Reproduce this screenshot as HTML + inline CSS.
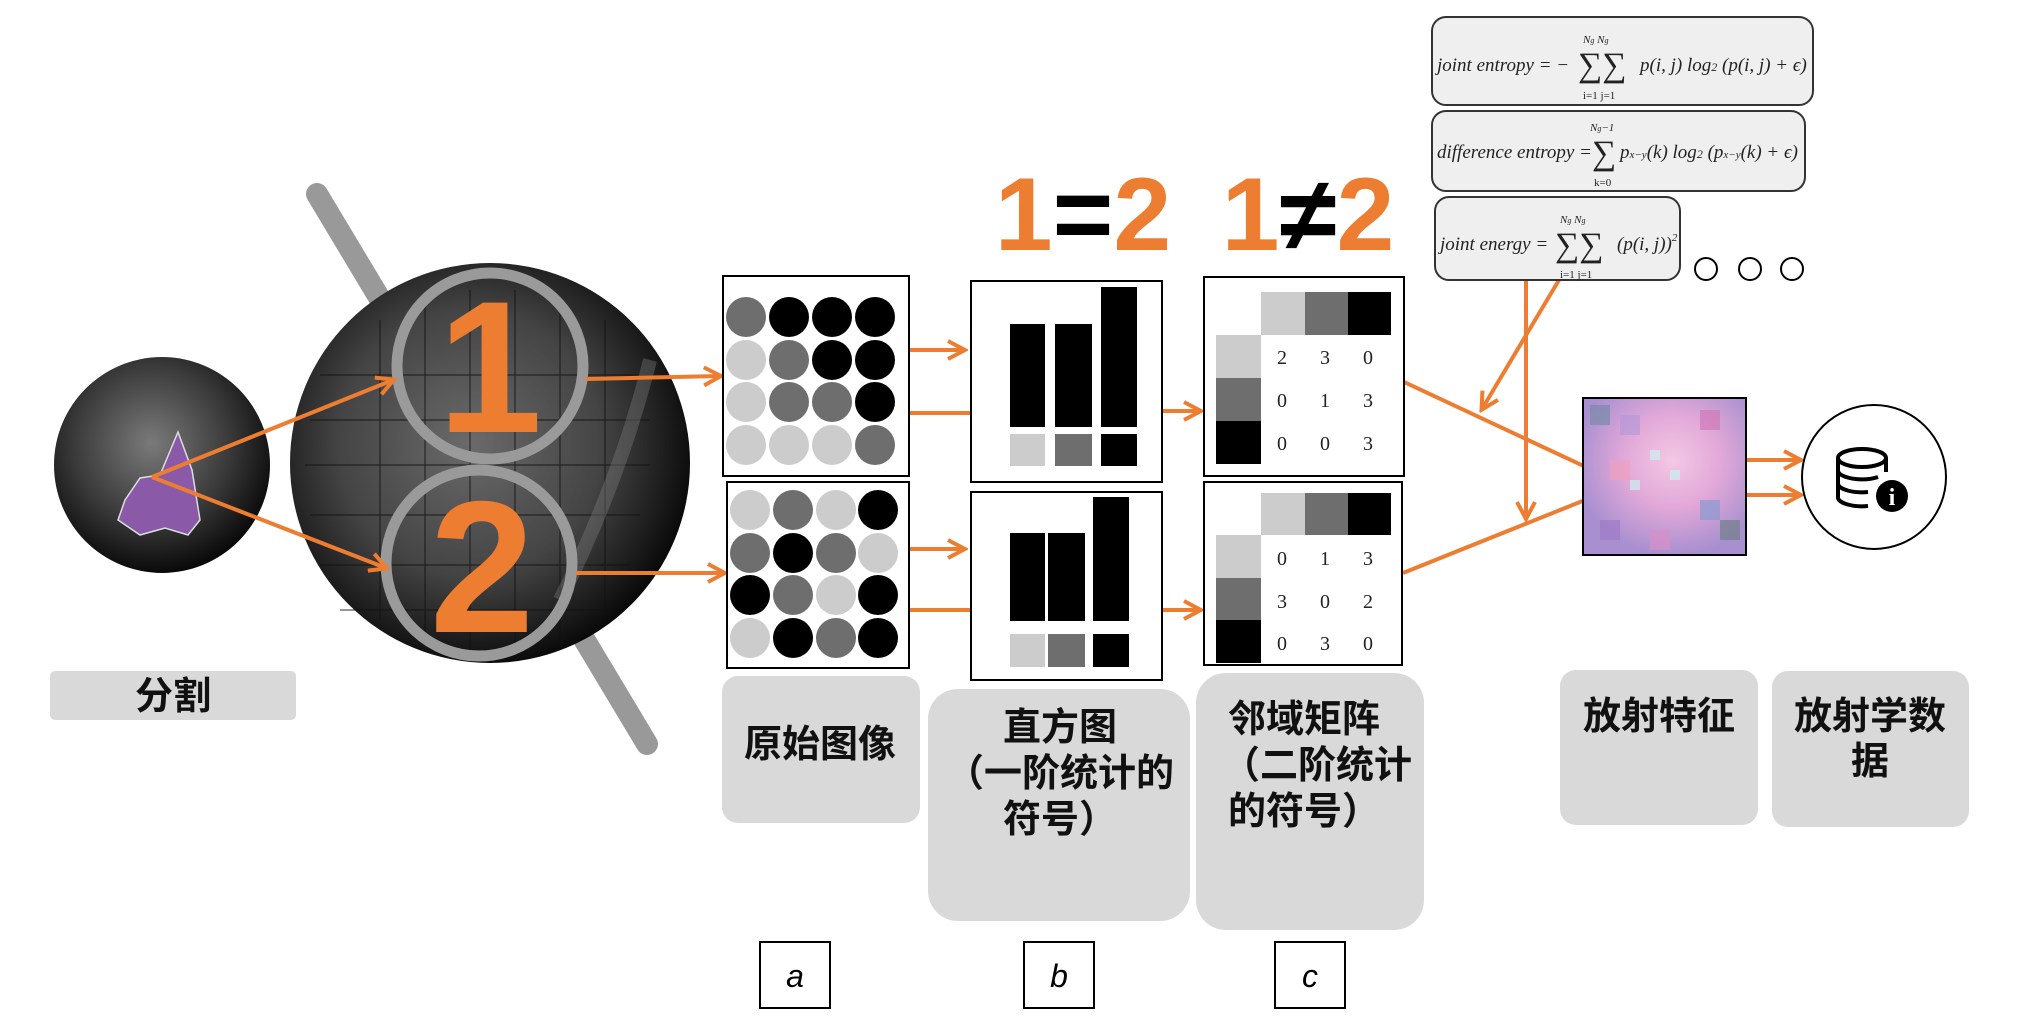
<!DOCTYPE html>
<html><head><meta charset="utf-8"><style>
html,body{margin:0;padding:0;background:#fff;}
svg{display:block;}
.cj{font-family:"Liberation Sans","Noto Sans CJK SC",sans-serif;font-weight:bold;fill:#111;}
.f{font-family:"Liberation Serif",serif;font-style:italic;fill:#222;}
.fs{font-family:"Liberation Serif",serif;fill:#222;}
.n{font-family:"Liberation Serif",serif;font-size:20px;fill:#222;text-anchor:middle;}
</style></head><body>
<svg width="2020" height="1028" viewBox="0 0 2020 1028" xmlns="http://www.w3.org/2000/svg">
<defs>
<radialGradient id="sm" cx="45%" cy="40%" r="60%"><stop offset="0" stop-color="#7a7a7a"/><stop offset="0.6" stop-color="#3a3a3a"/><stop offset="1" stop-color="#0a0a0a"/></radialGradient>
<radialGradient id="bg" cx="45%" cy="45%" r="60%"><stop offset="0" stop-color="#6a6a6a"/><stop offset="0.55" stop-color="#444"/><stop offset="0.85" stop-color="#181818"/><stop offset="1" stop-color="#000"/></radialGradient>
<radialGradient id="px" cx="55%" cy="40%" r="60%"><stop offset="0" stop-color="#f3c8e4"/><stop offset="0.5" stop-color="#e1a8d8"/><stop offset="1" stop-color="#a890d0"/></radialGradient>
<marker id="ah2" markerWidth="22" markerHeight="22" refX="18" refY="11" orient="auto" markerUnits="userSpaceOnUse"><path d="M2,2 L19,11 L2,20" fill="none" stroke="#ed7d31" stroke-width="4"/></marker>
</defs>

<circle cx="162" cy="465" r="108" fill="url(#sm)"/>
<path d="M178,432 L192,470 L200,520 L188,535 L165,528 L140,535 L118,520 L125,500 L140,478 L160,475 Z" fill="#8a5aa8" stroke="#ddd" stroke-width="1.5"/>

<line x1="317" y1="194" x2="647" y2="744" stroke="#999" stroke-width="22" stroke-linecap="round"/>
<circle cx="490" cy="463" r="200" fill="url(#bg)"/>
<g stroke="#111" stroke-width="1.2" opacity="0.7">
<line x1="320" y1="375" x2="640" y2="375"/><line x1="310" y1="420" x2="650" y2="420"/><line x1="305" y1="465" x2="650" y2="465"/><line x1="310" y1="515" x2="640" y2="515"/><line x1="320" y1="565" x2="630" y2="565"/><line x1="340" y1="610" x2="610" y2="610"/>
<line x1="380" y1="320" x2="380" y2="620"/><line x1="425" y1="300" x2="425" y2="640"/><line x1="470" y1="290" x2="470" y2="650"/><line x1="515" y1="290" x2="515" y2="650"/><line x1="560" y1="300" x2="560" y2="640"/><line x1="605" y1="320" x2="605" y2="620"/>
</g>
<path d="M650,360 C630,440 600,520 560,600" stroke="#888" stroke-width="14" fill="none" opacity="0.35"/>
<circle cx="490" cy="366" r="93" fill="none" stroke="#9a9a9a" stroke-width="11"/>
<circle cx="479" cy="563" r="93" fill="none" stroke="#9a9a9a" stroke-width="11"/>
<text x="490" y="432" font-family="Liberation Sans,sans-serif" font-weight="bold" font-size="188" fill="#ed7d31" text-anchor="middle">1</text>
<text x="482" y="632" font-family="Liberation Sans,sans-serif" font-weight="bold" font-size="188" fill="#ed7d31" text-anchor="middle">2</text>

<g stroke="#ed7d31" stroke-width="4" fill="none">
<line x1="152" y1="477" x2="393" y2="380" marker-end="url(#ah2)"/>
<line x1="152" y1="477" x2="386" y2="568" marker-end="url(#ah2)"/>
<line x1="586" y1="379" x2="720" y2="376" marker-end="url(#ah2)"/>
<line x1="576" y1="573" x2="724" y2="573" marker-end="url(#ah2)"/>
<line x1="910" y1="350" x2="964" y2="350" marker-end="url(#ah2)"/>
<line x1="910" y1="413" x2="971" y2="413"/>
<line x1="910" y1="549" x2="964" y2="549" marker-end="url(#ah2)"/>
<line x1="910" y1="610" x2="971" y2="610"/>
<line x1="1163" y1="411" x2="1200" y2="411" marker-end="url(#ah2)"/>
<line x1="1163" y1="610" x2="1200" y2="610" marker-end="url(#ah2)"/>
<line x1="1404" y1="382" x2="1605" y2="476" marker-end="url(#ah2)"/>
<line x1="1403" y1="573" x2="1605" y2="492" marker-end="url(#ah2)"/>
<line x1="1526" y1="280" x2="1526" y2="518" marker-end="url(#ah2)"/>
<line x1="1559" y1="280" x2="1482" y2="409" marker-end="url(#ah2)"/>
<line x1="1746" y1="460" x2="1800" y2="460" marker-end="url(#ah2)"/>
<line x1="1746" y1="495" x2="1800" y2="495" marker-end="url(#ah2)"/>
</g>

<rect x="723" y="276" width="186" height="200" fill="#fff" stroke="#000" stroke-width="2"/>
<rect x="727" y="482" width="182" height="186" fill="#fff" stroke="#000" stroke-width="2"/>
<g>
<circle cx="746" cy="317" r="20" fill="#6e6e6e"/><circle cx="789" cy="317" r="20" fill="#000"/><circle cx="832" cy="317" r="20" fill="#000"/><circle cx="875" cy="317" r="20" fill="#000"/>
<circle cx="746" cy="360" r="20" fill="#ccc"/><circle cx="789" cy="360" r="20" fill="#6e6e6e"/><circle cx="832" cy="360" r="20" fill="#000"/><circle cx="875" cy="360" r="20" fill="#000"/>
<circle cx="746" cy="402" r="20" fill="#ccc"/><circle cx="789" cy="402" r="20" fill="#6e6e6e"/><circle cx="832" cy="402" r="20" fill="#6e6e6e"/><circle cx="875" cy="402" r="20" fill="#000"/>
<circle cx="746" cy="445" r="20" fill="#ccc"/><circle cx="789" cy="445" r="20" fill="#ccc"/><circle cx="832" cy="445" r="20" fill="#ccc"/><circle cx="875" cy="445" r="20" fill="#6e6e6e"/>
<circle cx="750" cy="510" r="20" fill="#ccc"/><circle cx="793" cy="510" r="20" fill="#6e6e6e"/><circle cx="836" cy="510" r="20" fill="#ccc"/><circle cx="878" cy="510" r="20" fill="#000"/>
<circle cx="750" cy="553" r="20" fill="#6e6e6e"/><circle cx="793" cy="553" r="20" fill="#000"/><circle cx="836" cy="553" r="20" fill="#6e6e6e"/><circle cx="878" cy="553" r="20" fill="#ccc"/>
<circle cx="750" cy="595" r="20" fill="#000"/><circle cx="793" cy="595" r="20" fill="#6e6e6e"/><circle cx="836" cy="595" r="20" fill="#ccc"/><circle cx="878" cy="595" r="20" fill="#000"/>
<circle cx="750" cy="638" r="20" fill="#ccc"/><circle cx="793" cy="638" r="20" fill="#000"/><circle cx="836" cy="638" r="20" fill="#6e6e6e"/><circle cx="878" cy="638" r="20" fill="#000"/>
</g>

<rect x="971" y="281" width="191" height="201" fill="#fff" stroke="#000" stroke-width="2"/>
<rect x="971" y="492" width="191" height="188" fill="#fff" stroke="#000" stroke-width="2"/>
<rect x="1010" y="324" width="35" height="103" fill="#000"/><rect x="1055" y="324" width="37" height="103" fill="#000"/><rect x="1101" y="287" width="36" height="140" fill="#000"/>
<rect x="1010" y="434" width="35" height="32" fill="#ccc"/><rect x="1055" y="434" width="37" height="32" fill="#6e6e6e"/><rect x="1101" y="434" width="36" height="32" fill="#000"/>
<rect x="1010" y="533" width="35" height="88" fill="#000"/><rect x="1048" y="533" width="37" height="88" fill="#000"/><rect x="1093" y="497" width="36" height="124" fill="#000"/>
<rect x="1010" y="634" width="35" height="33" fill="#ccc"/><rect x="1048" y="634" width="37" height="33" fill="#6e6e6e"/><rect x="1093" y="634" width="36" height="33" fill="#000"/>

<rect x="1204" y="277" width="200" height="199" fill="#fff" stroke="#000" stroke-width="2"/>
<rect x="1204" y="482" width="198" height="183" fill="#fff" stroke="#000" stroke-width="2"/>
<rect x="1261" y="292" width="44" height="43" fill="#ccc"/><rect x="1305" y="292" width="43" height="43" fill="#6e6e6e"/><rect x="1348" y="292" width="43" height="43" fill="#000"/>
<rect x="1216" y="335" width="45" height="43" fill="#ccc"/><rect x="1216" y="378" width="45" height="43" fill="#6e6e6e"/><rect x="1216" y="421" width="45" height="43" fill="#000"/>
<text class="n" x="1282" y="364">2</text><text class="n" x="1325" y="364">3</text><text class="n" x="1368" y="364">0</text>
<text class="n" x="1282" y="407">0</text><text class="n" x="1325" y="407">1</text><text class="n" x="1368" y="407">3</text>
<text class="n" x="1282" y="450">0</text><text class="n" x="1325" y="450">0</text><text class="n" x="1368" y="450">3</text>
<rect x="1261" y="493" width="44" height="42" fill="#ccc"/><rect x="1305" y="493" width="43" height="42" fill="#6e6e6e"/><rect x="1348" y="493" width="43" height="42" fill="#000"/>
<rect x="1216" y="535" width="45" height="43" fill="#ccc"/><rect x="1216" y="578" width="45" height="42" fill="#6e6e6e"/><rect x="1216" y="620" width="45" height="43" fill="#000"/>
<text class="n" x="1282" y="565">0</text><text class="n" x="1325" y="565">1</text><text class="n" x="1368" y="565">3</text>
<text class="n" x="1282" y="608">3</text><text class="n" x="1325" y="608">0</text><text class="n" x="1368" y="608">2</text>
<text class="n" x="1282" y="650">0</text><text class="n" x="1325" y="650">3</text><text class="n" x="1368" y="650">0</text>

<text x="1083" y="250" font-family="Liberation Sans,sans-serif" font-weight="bold" font-size="104" fill="#ed7d31" text-anchor="middle">1<tspan fill="#000">=</tspan>2</text>
<text x="1308" y="250" font-family="Liberation Sans,sans-serif" font-weight="bold" font-size="104" fill="#ed7d31" text-anchor="middle">1<tspan fill="#000">≠</tspan>2</text>

<rect x="1432" y="17" width="381" height="88" rx="14" fill="#efefef" stroke="#333" stroke-width="2"/>
<rect x="1432" y="111" width="373" height="80" rx="14" fill="#efefef" stroke="#333" stroke-width="2"/>
<rect x="1435" y="197" width="245" height="83" rx="14" fill="#efefef" stroke="#333" stroke-width="2"/>
<text class="f" x="1437" y="71" font-size="19">joint entropy = −</text>
<text class="fs" x="1578" y="76" font-size="34">∑∑</text>
<text class="f" x="1583" y="43" font-size="11">N<tspan font-size="8">g</tspan>   N<tspan font-size="8">g</tspan></text>
<text class="fs" x="1583" y="99" font-size="11">i=1  j=1</text>
<text class="f" x="1640" y="71" font-size="19">p(i, j) log<tspan font-size="12">2</tspan> (p(i, j) + ϵ)</text>
<text class="f" x="1437" y="158" font-size="19">difference entropy =</text>
<text class="fs" x="1592" y="164" font-size="34">∑</text>
<text class="f" x="1590" y="131" font-size="11">N<tspan font-size="8">g</tspan>−1</text>
<text class="fs" x="1594" y="186" font-size="11">k=0</text>
<text class="f" x="1620" y="158" font-size="19">p<tspan font-size="11">x−y</tspan>(k) log<tspan font-size="12">2</tspan> (p<tspan font-size="11">x−y</tspan>(k) + ϵ)</text>
<text class="f" x="1440" y="250" font-size="19">joint energy =</text>
<text class="fs" x="1555" y="256" font-size="34">∑∑</text>
<text class="f" x="1560" y="223" font-size="11">N<tspan font-size="8">g</tspan>   N<tspan font-size="8">g</tspan></text>
<text class="fs" x="1560" y="278" font-size="11">i=1  j=1</text>
<text class="f" x="1617" y="250" font-size="19">(p(i, j))<tspan font-size="11" dy="-9">2</tspan></text>
<circle cx="1706" cy="269" r="11" fill="none" stroke="#000" stroke-width="2"/>
<circle cx="1750" cy="269" r="11" fill="none" stroke="#000" stroke-width="2"/>
<circle cx="1792" cy="269" r="11" fill="none" stroke="#000" stroke-width="2"/>

<rect x="1583" y="398" width="163" height="157" fill="url(#px)" stroke="#000" stroke-width="2"/>
<g opacity="0.7">
<rect x="1590" y="405" width="20" height="20" fill="#7a8aa8"/><rect x="1620" y="415" width="20" height="20" fill="#b89ad8"/><rect x="1700" y="410" width="20" height="20" fill="#d07ab8"/>
<rect x="1650" y="450" width="10" height="10" fill="#c9f3f0"/><rect x="1670" y="470" width="10" height="10" fill="#c9f3f0"/><rect x="1630" y="480" width="10" height="10" fill="#c9f3f0"/>
<rect x="1700" y="500" width="20" height="20" fill="#8a9ad0"/><rect x="1720" y="520" width="20" height="20" fill="#708088"/><rect x="1600" y="520" width="20" height="20" fill="#a07ac8"/>
<rect x="1650" y="530" width="20" height="20" fill="#d890c8"/><rect x="1610" y="460" width="20" height="20" fill="#f0a0c0"/>
</g>

<circle cx="1874" cy="477" r="72" fill="#fff" stroke="#000" stroke-width="2"/>
<g stroke="#000" stroke-width="4" fill="#fff">
<path d="M1838,458 v40 a24,9 0 0 0 30,8"/>
<ellipse cx="1862" cy="458" rx="24" ry="9"/>
<path d="M1838,471 a24,9 0 0 0 40,6"/><path d="M1838,484 a24,9 0 0 0 30,8"/>
<path d="M1886,458 v14"/>
</g>
<circle cx="1892" cy="496" r="16" fill="#000"/>
<text x="1892" y="505" font-family="Liberation Serif,serif" font-weight="bold" font-size="24" fill="#fff" text-anchor="middle">i</text>

<rect x="50" y="671" width="246" height="49" rx="5" fill="#d9d9d9"/>
<text class="cj" x="173" y="709" font-size="38" text-anchor="middle">分割</text>
<rect x="722" y="676" width="198" height="147" rx="16" fill="#d9d9d9"/>
<text class="cj" x="820" y="757" font-size="38" text-anchor="middle">原始图像</text>
<rect x="928" y="689" width="262" height="232" rx="30" fill="#d9d9d9"/>
<text class="cj" x="1060" y="740" font-size="38" text-anchor="middle">直方图</text>
<text class="cj" x="1060" y="786" font-size="38" text-anchor="middle">（一阶统计的</text>
<text class="cj" x="1060" y="832" font-size="38" text-anchor="middle">符号）</text>
<rect x="1196" y="673" width="228" height="257" rx="30" fill="#d9d9d9"/>
<text class="cj" x="1228" y="732" font-size="38">邻域矩阵</text>
<text class="cj" x="1222" y="778" font-size="38">（二阶统计</text>
<text class="cj" x="1228" y="824" font-size="38">的符号）</text>
<rect x="1560" y="670" width="198" height="155" rx="16" fill="#d9d9d9"/>
<text class="cj" x="1659" y="729" font-size="38" text-anchor="middle">放射特征</text>
<rect x="1772" y="671" width="197" height="156" rx="16" fill="#d9d9d9"/>
<text class="cj" x="1870" y="729" font-size="38" text-anchor="middle">放射学数</text>
<text class="cj" x="1870" y="774" font-size="38" text-anchor="middle">据</text>

<rect x="760" y="942" width="70" height="66" fill="#fff" stroke="#000" stroke-width="2"/>
<rect x="1024" y="942" width="70" height="66" fill="#fff" stroke="#000" stroke-width="2"/>
<rect x="1275" y="942" width="70" height="66" fill="#fff" stroke="#000" stroke-width="2"/>
<text x="795" y="987" font-family="Liberation Sans,sans-serif" font-style="italic" font-size="32" text-anchor="middle">a</text>
<text x="1059" y="987" font-family="Liberation Sans,sans-serif" font-style="italic" font-size="32" text-anchor="middle">b</text>
<text x="1310" y="987" font-family="Liberation Sans,sans-serif" font-style="italic" font-size="32" text-anchor="middle">c</text>
</svg>
</body></html>
